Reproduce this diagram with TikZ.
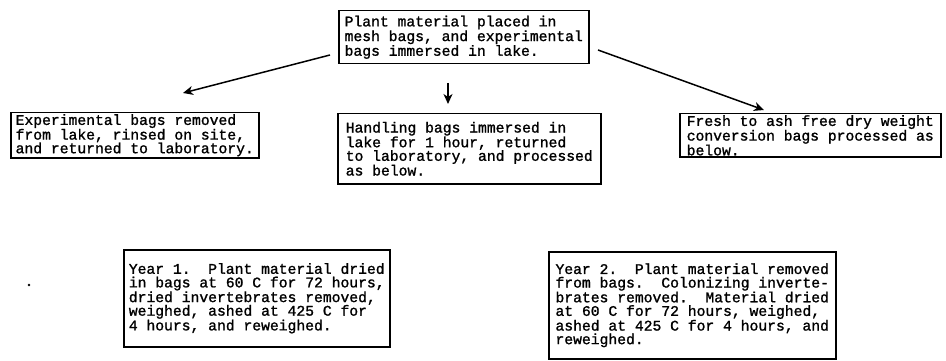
\documentclass[tikz,border=0pt]{standalone}
\usepackage{fontspec}
\setmonofont{Liberation Mono}[FakeBold=1.3]
\usetikzlibrary{arrows.meta}
\tikzset{
  box/.style={draw, line width=1.5pt, rectangle, align=left, anchor=north west,
    inner xsep=4pt, inner ysep=1.5pt,
    font=\ttfamily\fontsize{14.7}{13.6}\selectfont\frenchspacing},
  arr/.style={line width=1.5pt, -{Stealth[length=10pt,width=9pt,inset=3pt]}}
}
\begin{document}
\begin{tikzpicture}[x=1pt,y=-1pt]
\useasboundingbox (0,0) rectangle (946,361);
% boxes (x,y of top-left corner; width; height)
\node[box, minimum width=250pt, minimum height=53pt] (top) at (338,10)
 {Plant material placed in\\mesh bags, and experimental\\bags immersed in lake.};
\node[box, minimum width=248pt, minimum height=42pt] (left) at (10,112)
 {Experimental bags removed\\from lake, rinsed on site,\\and returned to laboratory.};
\node[box, minimum width=263pt, minimum height=70pt] (mid) at (337,113)
 {Handling bags immersed in\\lake for 1 hour, returned\\to laboratory, and processed\\as below.};
\node[box, minimum width=261pt, minimum height=42pt] (right) at (679,113)
 {Fresh to ash free dry weight\\conversion bags processed as\\below.};
\node[box, minimum width=266pt, minimum height=97pt] (y1) at (123,249)
 {Year 1.~~Plant material dried\\in bags at 60 C for 72 hours,\\dried invertebrates removed,\\weighed, ashed at 425 C for\\4 hours, and reweighed.};
\node[box, minimum width=287pt, minimum height=107pt] (y2) at (548,251)
 {Year 2.~~Plant material removed\\from bags.~~Colonizing inverte-\\brates removed.~~Material dried\\at 60 C for 72 hours, weighed,\\ashed at 425 C for 4 hours, and\\reweighed.};
% arrow ends
\coordinate (ls) at (330,55);
\coordinate (le) at (183,93);
\coordinate (ms) at (448,83);
\coordinate (me) at (448,104);
\coordinate (rs) at (598,50);
\coordinate (re) at (764,110);
\draw[arr] (ls) -- (le);
\draw[arr] (ms) -- (me);
\draw[arr] (rs) -- (re);
% stray dot
\fill (29,285) circle (1.4pt);
\end{tikzpicture}
\end{document}
